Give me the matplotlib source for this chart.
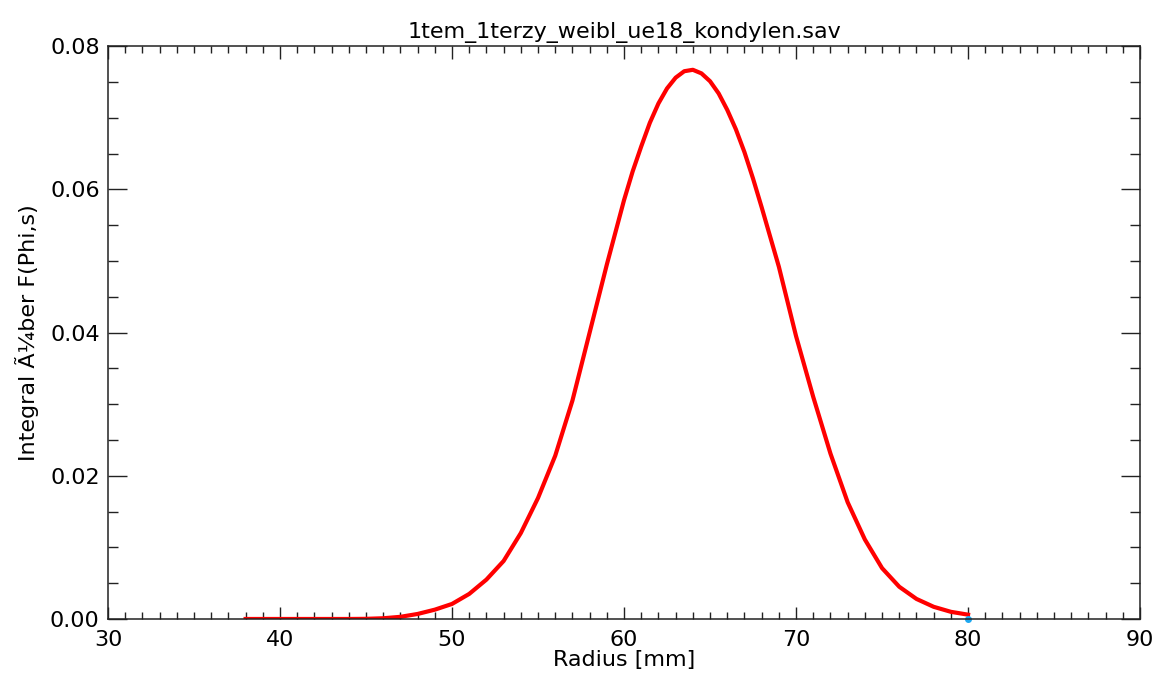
import matplotlib.pyplot as plt
from matplotlib.ticker import MultipleLocator, FormatStrFormatter

plt.rcParams["font.family"] = 'DejaVu Sans'

# radius [mm] and integral value
radius = [38, 39, 40, 41, 42, 43, 44, 45, 46, 47, 48, 49,
          50, 51, 52, 53, 54, 55, 56, 57, 58, 59,
          60, 60.5, 61, 61.5, 62, 62.5, 63, 63.5, 64, 64.5, 65, 65.5, 66, 66.5, 67, 67.5, 68, 69,
          70, 71, 72, 73, 74, 75, 76, 77, 78, 79, 80]
integral = [0.0, 0.0, 0.0, 0.0, 0.0, 0.0, 0.0, 0.00002, 0.0001, 0.0003, 0.0007, 0.0013,
            0.0021, 0.0035, 0.0055, 0.0081, 0.0120, 0.0169, 0.0228, 0.0305, 0.0400, 0.0495,
            0.0585, 0.0625, 0.0660, 0.0693, 0.0720, 0.0741, 0.0756, 0.0765, 0.0767, 0.0762,
            0.0751, 0.0734, 0.0711, 0.0684, 0.0652, 0.0615, 0.0575, 0.0492,
            0.0395, 0.0310, 0.0231, 0.0163, 0.0111, 0.0071, 0.0045, 0.0028, 0.0017, 0.0010, 0.0006]
end_x = [80]
end_y = [0.0]

fig = plt.figure(figsize=(11.61, 6.79), dpi=100)
ax = fig.add_axes([0.093, 0.0884, 0.889, 0.8436])

ax.plot(radius, integral, color='red', linewidth=3, solid_joinstyle='round')
ax.plot(end_x, end_y, marker='o', markersize=4, color='#1ea8f0', linestyle='none', clip_on=False)

ax.set_xlim(30, 90)
ax.set_ylim(0, 0.08)
ax.xaxis.set_major_locator(MultipleLocator(10))
ax.xaxis.set_minor_locator(MultipleLocator(1))
ax.yaxis.set_major_locator(MultipleLocator(0.02))
ax.yaxis.set_minor_locator(MultipleLocator(0.005))
ax.yaxis.set_major_formatter(FormatStrFormatter('%.2f'))

for s in ax.spines.values():
    s.set_linewidth(1.1)
    s.set_color('#222222')

ax.tick_params(axis='both', which='both', direction='in', top=True, right=True,
               labelsize=16, color='#222222', width=1.0)
ax.tick_params(axis='x', which='major', length=9, pad=8)
ax.tick_params(axis='x', which='minor', length=5)
ax.tick_params(axis='y', which='major', length=14, pad=6)
ax.tick_params(axis='y', which='minor', length=7)

ax.set_title('1tem_1terzy_weibl_ue18_kondylen.sav', fontsize=16, pad=6)
ax.set_xlabel('Radius [mm]', fontsize=16, labelpad=0)
ax.set_ylabel('Integral Ã¼ber F(Phi,s)', fontsize=16, labelpad=8)

plt.savefig('out.png', dpi=100)
